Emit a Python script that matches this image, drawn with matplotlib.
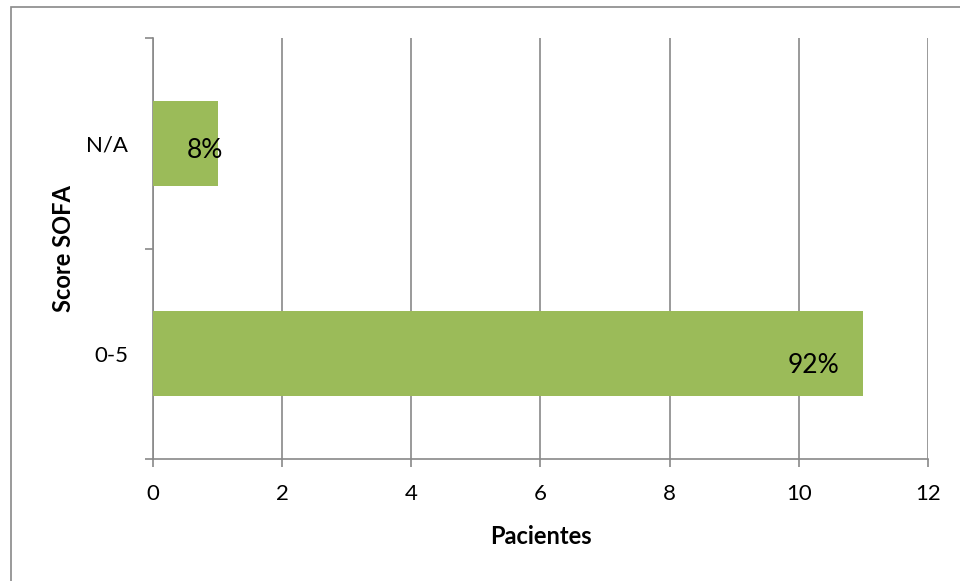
import matplotlib.pyplot as plt
from matplotlib.patches import Rectangle

# data
categories = ['0-5', 'N/A']
pacientes = [11, 1]
pct_labels = ['92%', '8%']
label_offsets = [-24, 6]   # px from bar end (right edge of text)
label_dy = [-12, -7]

plt.rcParams['font.family'] = ['Lato', 'DejaVu Sans']

fig = plt.figure(figsize=(9.6, 5.81), dpi=100)
ax = fig.add_axes([153 / 960, 1 - 459 / 581, 775 / 960, 421 / 581])

grey = '#898989'
ypos = range(len(categories))
ax.barh(ypos, pacientes, height=0.405, color='#9BBB59', zorder=3)

for y, v, lab, dx, dy in zip(ypos, pacientes, pct_labels, label_offsets, label_dy):
    ax.annotate(lab, (v, y), xytext=(dx * 0.72, dy * 0.72), textcoords='offset points',
                ha='right', va='center', fontsize=19, zorder=4)

ax.set_xlim(0, 12)
ax.set_xticks(range(0, 13, 2))
ax.set_ylim(-0.5, 1.5)
ax.set_yticks([-0.5, 0.5, 1.5])
ax.set_yticks(list(ypos), minor=True)
ax.set_yticklabels([])
ax.set_yticklabels(categories, minor=True)
ax.tick_params(axis='y', which='minor', length=0, pad=18, labelsize=16)
ax.tick_params(axis='y', which='major', length=6, color=grey, width=1.2)
ax.tick_params(axis='x', length=6, color=grey, width=1.2, labelsize=16, pad=12)

ax.grid(axis='x', color=grey, linewidth=1.2, zorder=0)
for s in ['top', 'right']:
    ax.spines[s].set_visible(False)
for s in ['left', 'bottom']:
    ax.spines[s].set_color(grey)
    ax.spines[s].set_linewidth(1.2)

ax.set_xlabel('Pacientes', fontsize=17, fontweight='bold', labelpad=15)
ax.set_ylabel('Score SOFA', fontsize=17, fontweight='bold', labelpad=8)

# outer chart border
fig.patches.append(Rectangle((11 / 960, -0.1), 1.2, 1 - 7 / 581 + 0.1,
                             transform=fig.transFigure, fill=False,
                             edgecolor=grey, linewidth=1.2))

fig.savefig('out.png', dpi=100)
